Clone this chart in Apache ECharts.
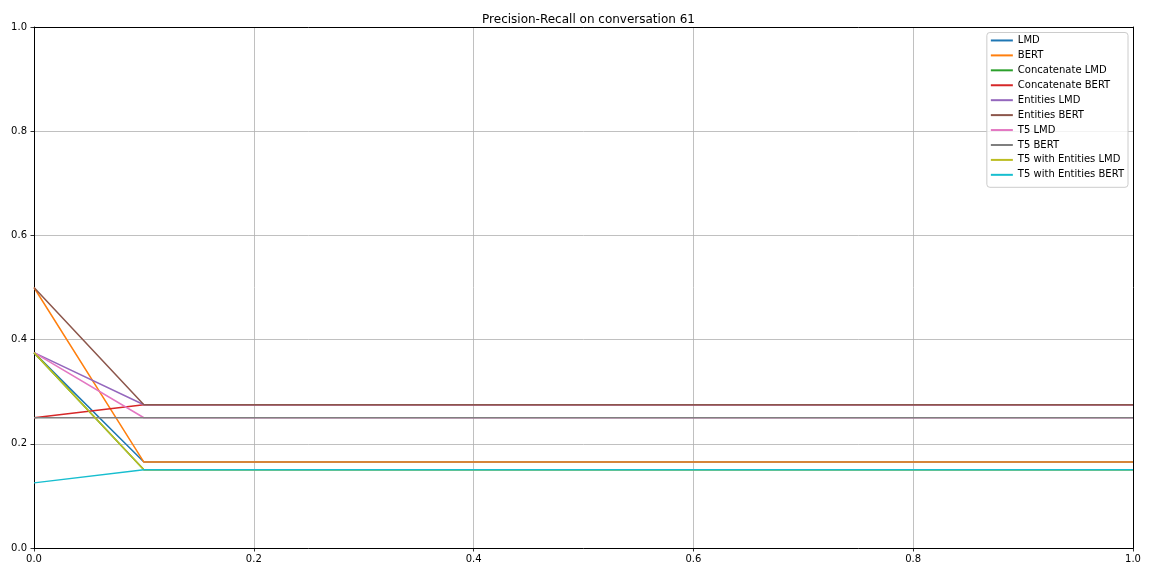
<!DOCTYPE html>
<html>
<head>
<meta charset="utf-8">
<script src="https://cdn.jsdelivr.net/npm/echarts@6/dist/echarts.min.js"></script>
<style>html,body{margin:0;padding:0;background:#fff;}#c{width:1152px;height:576px;}</style>
</head>
<body>
<div id="c"></div>
<script>
const recall = [0.0, 0.1, 0.2, 0.3, 0.4, 0.5, 0.6, 0.7, 0.8, 0.9, 1.0];
const seriesNames = ["LMD", "BERT", "Concatenate LMD", "Concatenate BERT", "Entities LMD", "Entities BERT", "T5 LMD", "T5 BERT", "T5 with Entities LMD", "T5 with Entities BERT"];
const lmd = [0.375, 0.165, 0.165, 0.165, 0.165, 0.165, 0.165, 0.165, 0.165, 0.165, 0.165];
const bert = [0.5, 0.165, 0.165, 0.165, 0.165, 0.165, 0.165, 0.165, 0.165, 0.165, 0.165];
const concatLmd = [0.375, 0.15, 0.15, 0.15, 0.15, 0.15, 0.15, 0.15, 0.15, 0.15, 0.15];
const concatBert = [0.25, 0.275, 0.275, 0.275, 0.275, 0.275, 0.275, 0.275, 0.275, 0.275, 0.275];
const entLmd = [0.375, 0.275, 0.275, 0.275, 0.275, 0.275, 0.275, 0.275, 0.275, 0.275, 0.275];
const entBert = [0.5, 0.275, 0.275, 0.275, 0.275, 0.275, 0.275, 0.275, 0.275, 0.275, 0.275];
const t5Lmd = [0.375, 0.25, 0.25, 0.25, 0.25, 0.25, 0.25, 0.25, 0.25, 0.25, 0.25];
const t5Bert = [0.25, 0.25, 0.25, 0.25, 0.25, 0.25, 0.25, 0.25, 0.25, 0.25, 0.25];
const t5EntLmd = [0.375, 0.15, 0.15, 0.15, 0.15, 0.15, 0.15, 0.15, 0.15, 0.15, 0.15];
const t5EntBert = [0.125, 0.15, 0.15, 0.15, 0.15, 0.15, 0.15, 0.15, 0.15, 0.15, 0.15];
const allValues = [lmd, bert, concatLmd, concatBert, entLmd, entBert, t5Lmd, t5Bert, t5EntLmd, t5EntBert];
const colors = ["#1f77b4", "#ff7f0e", "#2ca02c", "#d62728", "#9467bd", "#8c564b", "#e377c2", "#7f7f7f", "#bcbd22", "#17becf"];
const tickLabels = ["0.0", "0.2", "0.4", "0.6", "0.8", "1.0"];

const font = "DejaVu Sans";
const chart = echarts.init(document.getElementById('c'), null, {renderer: 'canvas'});
const fmt = v => { const i = Math.round(v / 0.2); return tickLabels[i] !== undefined ? tickLabels[i] : ''; };
const axisCommon = (margin) => ({
  type: 'value', min: 0, max: 1, interval: 0.2,
  axisLine: {show: true, onZero: false, lineStyle: {color: '#000', width: 1}},
  axisTick: {show: true, length: 3.5, lineStyle: {color: '#000', width: 0.8}},
  axisLabel: {color: '#000', fontFamily: font, fontSize: 10, margin: margin, formatter: fmt},
  splitLine: {show: true, lineStyle: {color: '#b0b0b0', width: 0.8}}
});
const frameAxis = (pos) => ({
  type: 'value', min: 0, max: 1, interval: 0.2, position: pos,
  axisLine: {show: true, onZero: false, lineStyle: {color: '#000', width: 1}},
  axisTick: {show: false}, axisLabel: {show: false}, splitLine: {show: false}
});
chart.setOption({
  animation: false,
  backgroundColor: '#fff',
  title: {
    text: 'Precision-Recall on conversation 61',
    left: 583.5, top: 9, textAlign: 'center',
    textStyle: {fontFamily: font, fontSize: 12, fontWeight: 'normal', color: '#000'}
  },
  grid: {left: 34, right: 19, top: 27, bottom: 28},
  legend: {
    orient: 'vertical', right: 24, top: 32.5,
    backgroundColor: 'rgba(255,255,255,0.8)', borderColor: '#cccccc', borderWidth: 1, borderRadius: 3,
    padding: [0.5, 4, 5, 4],
    itemWidth: 22, itemHeight: 2, itemGap: 0,
    icon: 'rect',
    textStyle: {fontFamily: font, fontSize: 10, color: '#000', lineHeight: 14.93},
    data: seriesNames
  },
  xAxis: [Object.assign({position: 'bottom'}, axisCommon(6)), frameAxis('top')],
  yAxis: [Object.assign({position: 'left'}, axisCommon(7)), frameAxis('right')],
  series: seriesNames.map((name, i) => ({
    name: name, type: 'line', showSymbol: false, symbol: 'none',
    color: colors[i],
    lineStyle: {color: colors[i], width: 1.5},
    data: recall.map((r, j) => [r, allValues[i][j]]),
    xAxisIndex: 0, yAxisIndex: 0,
    z: 2
  }))
});
</script>
</body>
</html>
